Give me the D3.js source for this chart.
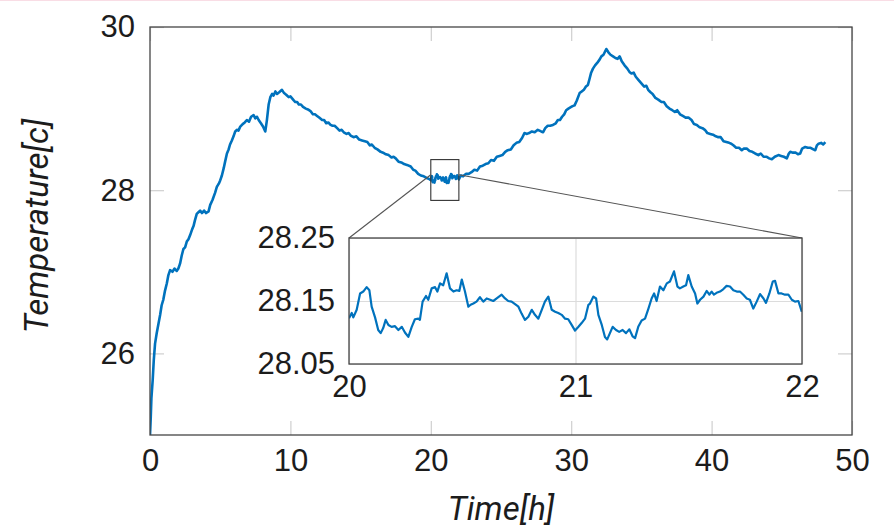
<!DOCTYPE html>
<html>
<head>
<meta charset="utf-8">
<script src="https://cdn.jsdelivr.net/npm/d3@7"></script>
<style>
  html, body { margin: 0; padding: 0; background: #fff; }
  svg { display: block; font-family: Roboto, "Open Sans", sans-serif; }
</style>
</head>
<body>
<div id="chart"></div>
<script>
const width = 894;
const height = 531;

// time [h] and temperature [c] (denser between 20 and 22 h)
const timeH = [
  0, 0.05, 0.1, 0.19, 0.27, 0.36, 0.48, 0.6, 0.72, 0.83, 0.95, 1.07, 1.2, 1.31, 1.43, 1.6, 1.75, 1.9,
  2.02, 2.14, 2.26, 2.38, 2.5, 2.62, 2.74, 2.86, 3.0, 3.1, 3.2, 3.33, 3.45, 3.57, 3.7, 3.85, 4.0, 4.17,
  4.29, 4.45, 4.64, 4.76, 4.9, 5.0, 5.12, 5.25, 5.35, 5.48, 5.6, 5.7, 5.83, 5.95, 6.07, 6.2, 6.3, 6.43,
  6.6, 6.75, 6.9, 7.05, 7.2, 7.38, 7.5, 7.62, 7.74, 7.9, 8.05, 8.21, 8.32, 8.45, 8.57, 8.7, 8.8, 8.93,
  9.05, 9.2, 9.4, 9.55, 9.7, 9.88, 10.0, 10.24, 10.35, 10.48, 10.6, 10.75, 10.9, 11.1, 11.25, 11.43,
  11.6, 11.75, 11.9, 12.05, 12.26, 12.4, 12.55, 12.7, 12.86, 13.0, 13.15, 13.33, 13.5, 13.65, 13.8,
  14.0, 14.15, 14.29, 14.5, 14.7, 14.9, 15.1, 15.3, 15.48, 15.65, 15.8, 16.0, 16.2, 16.43, 16.6, 16.8,
  17.0, 17.2, 17.35, 17.5, 17.7, 17.9, 18.1, 18.3, 18.57, 18.75, 18.9, 19.1, 19.29, 19.5, 19.7, 19.85,
  20.0, 20.012, 20.019, 20.034, 20.049, 20.063, 20.078, 20.09, 20.1, 20.115, 20.129, 20.14, 20.151,
  20.162, 20.174, 20.188, 20.203, 20.218, 20.233, 20.247, 20.262, 20.277, 20.291, 20.306, 20.313,
  20.325, 20.34, 20.35, 20.365, 20.38, 20.39, 20.402, 20.416, 20.431, 20.446, 20.461, 20.475, 20.487,
  20.498, 20.512, 20.527, 20.537, 20.549, 20.563, 20.578, 20.593, 20.608, 20.623, 20.637, 20.652,
  20.674, 20.689, 20.703, 20.718, 20.733, 20.748, 20.762, 20.777, 20.792, 20.807, 20.821, 20.836,
  20.851, 20.865, 20.88, 20.895, 20.91, 20.924, 20.939, 20.954, 20.968, 20.983, 20.998, 21.013,
  21.027, 21.042, 21.057, 21.064, 21.079, 21.091, 21.101, 21.116, 21.13, 21.14, 21.152, 21.164,
  21.179, 21.193, 21.208, 21.223, 21.238, 21.252, 21.263, 21.277, 21.292, 21.307, 21.322, 21.336,
  21.347, 21.358, 21.373, 21.388, 21.403, 21.417, 21.435, 21.45, 21.461, 21.476, 21.488, 21.498,
  21.513, 21.528, 21.538, 21.55, 21.565, 21.579, 21.591, 21.601, 21.611, 21.623, 21.638, 21.653,
  21.667, 21.682, 21.697, 21.712, 21.726, 21.741, 21.756, 21.77, 21.785, 21.8, 21.815, 21.83, 21.841,
  21.856, 21.871, 21.881, 21.896, 21.91, 21.925, 21.94, 21.955, 21.969, 21.984, 21.999,
  22.14, 22.3, 22.5, 22.7, 22.9, 23.1, 23.3, 23.5, 23.7, 23.9, 24.1, 24.29, 24.5, 24.7, 24.9, 25.1,
  25.3, 25.48, 25.7, 25.9, 26.1, 26.3, 26.5, 26.67, 26.85, 27.0, 27.2, 27.4, 27.62, 27.86, 28.0,
  28.15, 28.33, 28.5, 28.7, 28.9, 29.05, 29.2, 29.35, 29.5, 29.64, 29.8, 30.0, 30.1, 30.24, 30.4,
  30.6, 30.75, 30.9, 31.05, 31.19, 31.3, 31.42, 31.55, 31.7, 31.85, 32.02, 32.15, 32.3, 32.5, 32.65,
  32.8, 32.98, 33.15, 33.3, 33.45, 33.6, 33.8, 34.0, 34.15, 34.29, 34.45, 34.6, 34.8, 35.0, 35.2,
  35.35, 35.48, 35.65, 35.8, 36.0, 36.2, 36.43, 36.6, 36.8, 37.0, 37.2, 37.38, 37.55, 37.75, 37.95,
  38.15, 38.35, 38.57, 38.75, 38.95, 39.15, 39.35, 39.52, 39.7, 39.9, 40.1, 40.3, 40.48, 40.65,
  40.85, 41.05, 41.25, 41.4, 41.55, 41.75, 41.95, 42.15, 42.3, 42.5, 42.7, 42.9, 43.1, 43.33, 43.5,
  43.7, 43.9, 44.1, 44.29, 44.5, 44.76, 44.95, 45.15, 45.36, 45.5, 45.6, 45.8, 46.0, 46.15, 46.31,
  46.45, 46.67, 46.85, 47.05, 47.25, 47.38, 47.5, 47.62, 47.8, 47.95, 48.1
];
const tempC = [
  25.0, 25.2, 25.45, 25.67, 25.92, 26.12, 26.25, 26.36, 26.47, 26.59, 26.66, 26.77, 26.86, 26.96, 27.02, 27.0, 27.04, 27.01,
  27.04, 27.1, 27.2, 27.28, 27.3, 27.37, 27.4, 27.45, 27.52, 27.56, 27.63, 27.71, 27.73, 27.75, 27.72, 27.75, 27.72, 27.74,
  27.82, 27.88, 27.97, 28.04, 28.08, 28.12, 28.18, 28.27, 28.35, 28.45, 28.5, 28.56, 28.61, 28.66, 28.72, 28.74, 28.73, 28.78,
  28.81, 28.83, 28.86, 28.84, 28.9, 28.92, 28.88, 28.9, 28.86, 28.82, 28.78, 28.72, 28.85, 29.05, 29.14, 29.18, 29.16, 29.21,
  29.18, 29.2, 29.23, 29.19, 29.17, 29.14, 29.15, 29.1, 29.08, 29.08, 29.05, 29.05, 29.02, 29.0, 28.99, 28.97,
  28.93, 28.93, 28.91, 28.89, 28.86, 28.86, 28.82, 28.83, 28.8, 28.79, 28.79, 28.76, 28.73, 28.74, 28.71,
  28.69, 28.7, 28.67, 28.65, 28.66, 28.62, 28.61, 28.6, 28.59, 28.55, 28.56, 28.52, 28.5, 28.47, 28.46, 28.44,
  28.43, 28.4, 28.41, 28.39, 28.35, 28.34, 28.32, 28.31, 28.29, 28.25, 28.24, 28.2, 28.18, 28.17, 28.15, 28.14,
  28.1225, 28.131, 28.124, 28.136, 28.162, 28.165, 28.172, 28.167, 28.141, 28.124, 28.104, 28.099, 28.107,
  28.12, 28.112, 28.109, 28.11, 28.104, 28.109, 28.1, 28.093, 28.109, 28.121, 28.122, 28.12,
  28.149, 28.158, 28.152, 28.17, 28.172, 28.165, 28.178, 28.175, 28.194, 28.17, 28.165, 28.167, 28.166,
  28.184, 28.165, 28.141, 28.144, 28.146, 28.149, 28.156, 28.149, 28.154, 28.152, 28.15, 28.154,
  28.16, 28.154, 28.15, 28.149, 28.145, 28.141, 28.13, 28.12, 28.125, 28.136, 28.128, 28.122,
  28.136, 28.149, 28.157, 28.136, 28.133, 28.131, 28.128, 28.122, 28.121, 28.112, 28.103, 28.109,
  28.115, 28.122, 28.144, 28.146, 28.157, 28.154, 28.128, 28.112, 28.093, 28.089, 28.099, 28.109,
  28.104, 28.101, 28.104, 28.099, 28.105, 28.094, 28.091, 28.109, 28.119, 28.122, 28.138, 28.154,
  28.162, 28.15, 28.173, 28.167, 28.178, 28.181, 28.197, 28.173, 28.17, 28.173, 28.175, 28.191,
  28.173, 28.162, 28.146, 28.152, 28.157, 28.166, 28.16, 28.165, 28.16, 28.163, 28.165, 28.169,
  28.174, 28.173, 28.167, 28.165, 28.165, 28.16, 28.154, 28.152, 28.138, 28.149, 28.161, 28.154, 28.147,
  28.162, 28.181, 28.182, 28.162, 28.162, 28.16, 28.16, 28.152, 28.149, 28.15, 28.133,
  28.18, 28.17, 28.2, 28.2, 28.22, 28.25, 28.24, 28.29, 28.3, 28.32, 28.33, 28.37, 28.36, 28.41, 28.42, 28.43,
  28.47, 28.49, 28.5, 28.55, 28.58, 28.59, 28.64, 28.7, 28.69, 28.7, 28.72, 28.71, 28.74, 28.72, 28.71,
  28.76, 28.79, 28.79, 28.8, 28.82, 28.86, 28.86, 28.9, 28.93, 28.98, 29.0, 29.02, 29.03, 29.04, 29.1,
  29.19, 29.21, 29.23, 29.27, 29.29, 29.36, 29.44, 29.49, 29.53, 29.56, 29.6, 29.64, 29.66, 29.73, 29.69,
  29.66, 29.64, 29.62, 29.61, 29.64, 29.58, 29.53, 29.49, 29.45, 29.43, 29.44, 29.39, 29.35, 29.31, 29.27,
  29.28, 29.23, 29.2, 29.18, 29.13, 29.11, 29.08, 29.08, 29.03, 29.0, 28.98, 28.96, 28.98, 28.93, 28.91,
  28.89, 28.89, 28.86, 28.81, 28.8, 28.77, 28.76, 28.74, 28.7, 28.69, 28.68, 28.66, 28.65, 28.65,
  28.6, 28.59, 28.58, 28.57, 28.55, 28.52, 28.52, 28.49, 28.51, 28.51, 28.48, 28.47, 28.45, 28.43, 28.45,
  28.41, 28.41, 28.39, 28.38, 28.41, 28.43, 28.42, 28.41, 28.39, 28.45, 28.47, 28.46, 28.46, 28.44, 28.45,
  28.51, 28.53, 28.52, 28.52, 28.5, 28.49, 28.55, 28.57, 28.58, 28.56, 28.59
];

const xTicks = [0, 10, 20, 30, 40, 50];
const yTicks = [26, 28, 30];
const zoomTime = [20, 22];
const zoomTemp = [28.05, 28.25];
const zoomXTicks = [20, 21, 22];
const zoomYTicks = [28.05, 28.15, 28.25];
const spyTemp = [27.875, 28.375];   // height of the little box on the main plot
const spyJoin = 28.19;              // where the connector lines leave the box

const data = timeH.map((t, i) => ({t: t, v: tempC[i]}));

const plot = {left: 150, right: 852, top: 27, bottom: 435};
const inset = {left: 349, right: 802, top: 238, bottom: 364};

const blue = '#0072bd';
const frame = '#464646';
const tickGrey = '#cfcfcf';
const textCol = '#1c1c1c';

const x = d3.scaleLinear().domain([0, 50]).range([plot.left, plot.right]);
const y = d3.scaleLinear().domain([25, 30]).range([plot.bottom, plot.top]);
const ix = d3.scaleLinear().domain(zoomTime).range([inset.left, inset.right]);
const iy = d3.scaleLinear().domain(zoomTemp).range([inset.bottom, inset.top]);

const svg = d3.select('#chart').append('svg')
  .attr('width', width)
  .attr('height', height);

svg.append('rect').attr('width', width).attr('height', height).attr('fill', '#fff');
svg.append('line')
  .attr('x1', 0).attr('x2', width).attr('y1', 0.5).attr('y2', 0.5)
  .attr('stroke', '#f9dde5').attr('stroke-width', 1);

const styleAxis = (g, showText) => {
  g.select('.domain').remove();
  g.selectAll('.tick line').attr('stroke', tickGrey).attr('stroke-width', 1.2);
  g.selectAll('.tick text')
    .attr('fill', textCol)
    .style('font-size', '31px')
    .style('display', showText ? null : 'none');
};

// main axes, ticks pointing inward on all four sides
svg.append('g')
  .attr('transform', `translate(0, ${plot.bottom})`)
  .call(d3.axisBottom(x).tickValues(xTicks).tickFormat(d3.format('d'))
    .tickSizeInner(-14).tickSizeOuter(0).tickPadding(14))
  .call(g => styleAxis(g, true));

svg.append('g')
  .attr('transform', `translate(0, ${plot.top})`)
  .call(d3.axisTop(x).tickValues(xTicks).tickSizeInner(-14).tickSizeOuter(0))
  .call(g => styleAxis(g, false));

svg.append('g')
  .attr('transform', `translate(${plot.left}, 0)`)
  .call(d3.axisLeft(y).tickValues(yTicks).tickFormat(d3.format('d'))
    .tickSizeInner(-14).tickSizeOuter(0).tickPadding(15))
  .call(g => styleAxis(g, true));

svg.append('g')
  .attr('transform', `translate(${plot.right}, 0)`)
  .call(d3.axisRight(y).tickValues(yTicks).tickSizeInner(-14).tickSizeOuter(0))
  .call(g => styleAxis(g, false));

svg.append('defs').append('clipPath').attr('id', 'plot-clip')
  .append('rect')
  .attr('x', plot.left).attr('y', plot.top)
  .attr('width', plot.right - plot.left).attr('height', plot.bottom - plot.top);

const line = d3.line().x(d => x(d.t)).y(d => y(d.v));

svg.append('path')
  .datum(data)
  .attr('clip-path', 'url(#plot-clip)')
  .attr('fill', 'none')
  .attr('stroke', blue)
  .attr('stroke-width', 2.6)
  .attr('stroke-linejoin', 'round')
  .attr('d', line);

svg.append('rect')
  .attr('x', plot.left).attr('y', plot.top)
  .attr('width', plot.right - plot.left).attr('height', plot.bottom - plot.top)
  .attr('fill', 'none').attr('stroke', frame).attr('stroke-width', 1.3);

// spy box + connectors
svg.append('rect')
  .attr('x', x(zoomTime[0])).attr('y', y(spyTemp[1]))
  .attr('width', x(zoomTime[1]) - x(zoomTime[0]))
  .attr('height', y(spyTemp[0]) - y(spyTemp[1]))
  .attr('fill', 'none').attr('stroke', '#333').attr('stroke-width', 1.1);

svg.append('line')
  .attr('x1', x(zoomTime[0])).attr('y1', y(spyJoin))
  .attr('x2', inset.left).attr('y2', inset.top)
  .attr('stroke', '#555').attr('stroke-width', 1.1);
svg.append('line')
  .attr('x1', x(zoomTime[1])).attr('y1', y(spyJoin))
  .attr('x2', inset.right).attr('y2', inset.top)
  .attr('stroke', '#555').attr('stroke-width', 1.1);

// inset
svg.append('rect')
  .attr('x', inset.left).attr('y', inset.top)
  .attr('width', inset.right - inset.left).attr('height', inset.bottom - inset.top)
  .attr('fill', '#fff');

svg.append('g')
  .attr('transform', `translate(0, ${inset.bottom})`)
  .call(d3.axisBottom(ix).tickValues(zoomXTicks).tickFormat(d3.format('d'))
    .tickSizeInner(-(inset.bottom - inset.top)).tickSizeOuter(0).tickPadding(11))
  .call(g => styleAxis(g, true))
  .call(g => g.selectAll('.tick line').attr('stroke', '#dcdcdc'));

svg.append('g')
  .attr('transform', `translate(${inset.left}, 0)`)
  .call(d3.axisLeft(iy).tickValues(zoomYTicks).tickFormat(d3.format('.2f'))
    .tickSizeInner(-(inset.right - inset.left)).tickSizeOuter(0).tickPadding(14))
  .call(g => styleAxis(g, true))
  .call(g => g.selectAll('.tick line').attr('stroke', '#dcdcdc'));

svg.append('defs').append('clipPath').attr('id', 'inset-clip')
  .append('rect')
  .attr('x', inset.left).attr('y', inset.top)
  .attr('width', inset.right - inset.left).attr('height', inset.bottom - inset.top);

const insetLine = d3.line().x(d => ix(d.t)).y(d => iy(d.v));

svg.append('path')
  .datum(data.filter(d => d.t >= zoomTime[0] && d.t <= zoomTime[1]))
  .attr('clip-path', 'url(#inset-clip)')
  .attr('fill', 'none')
  .attr('stroke', blue)
  .attr('stroke-width', 2.2)
  .attr('stroke-linejoin', 'round')
  .attr('d', insetLine);

svg.append('rect')
  .attr('x', inset.left).attr('y', inset.top)
  .attr('width', inset.right - inset.left).attr('height', inset.bottom - inset.top)
  .attr('fill', 'none').attr('stroke', frame).attr('stroke-width', 1.3);

// axis titles
svg.append('text')
  .attr('x', (plot.left + plot.right) / 2)
  .attr('y', 520)
  .attr('text-anchor', 'middle')
  .attr('fill', textCol)
  .style('font-size', '33px')
  .style('font-style', 'italic')
  .text('Time[h]');

svg.append('text')
  .attr('transform', `translate(48, ${(plot.top + plot.bottom) / 2 - 5}) rotate(-90)`)
  .attr('text-anchor', 'middle')
  .attr('fill', textCol)
  .style('font-size', '33px')
  .style('font-style', 'italic')
  .text('Temperature[c]');
</script>
</body>
</html>
